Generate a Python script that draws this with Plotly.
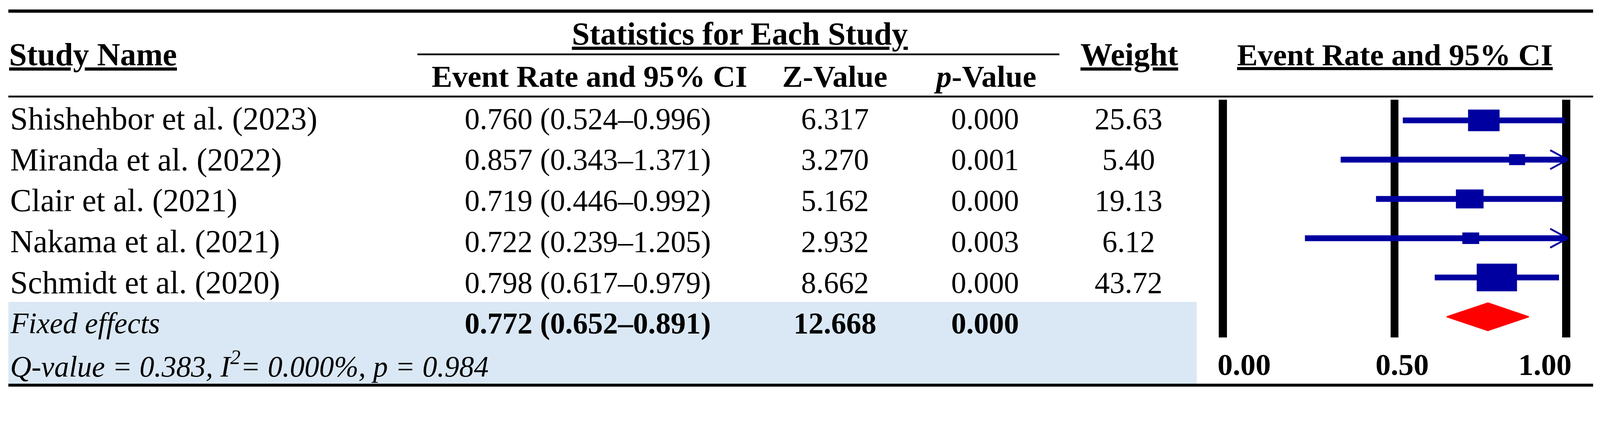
import math
import plotly.graph_objects as go

# ---------------- data ----------------
studies = ["Shishehbor et al. (2023)", "Miranda et al. (2022)", "Clair et al. (2021)",
           "Nakama et al. (2021)", "Schmidt et al. (2020)"]
event_rate = [0.760, 0.857, 0.719, 0.722, 0.798]
ci_lower = [0.524, 0.343, 0.446, 0.239, 0.617]
ci_upper = [0.996, 1.371, 0.992, 1.205, 0.979]
z_values = [6.317, 3.270, 5.162, 2.932, 8.662]
p_values = [0.000, 0.001, 0.000, 0.003, 0.000]
weights = [25.63, 5.40, 19.13, 6.12, 43.72]

pooled_label = "Fixed effects"
pooled_rate = 0.772
pooled_lower = 0.652
pooled_upper = 0.891
pooled_z = 12.668
pooled_p = 0.000

q_value = 0.383
i_squared = 0.000
p_heterogeneity = 0.984

tick_vals = [0.0, 0.5, 1.0]
tick_text = ["0.00", "0.50", "1.00"]

header_study = "Study Name"
header_stats = "Statistics for Each Study"
header_cols = ["Event Rate and 95% CI", "Z-Value", "<i>p</i>-Value"]
header_weight = "Weight"
header_plot = "Event Rate and 95% CI"

# ---------------- style / layout ----------------
W, H = 4404, 1092
FONT = "Liberation Serif, Times New Roman, serif"
FS_NAME = 88
FS_NUM = 83
FS_HEAD = 88
FS_SUB = 85
FS_ITAL = 81
BLUE = "#0000A0"
RED = "#FF0000"
BAND = "#DAE8F5"


def px(x):
    return x / W


def py(y):
    return 1 - y / H


# forest-plot axis geometry (pixels)
X0_PX, X1_PX = 3366, 4311
UNIT = X1_PX - X0_PX
XR = [-0.1, 1.08]
ROW0_PX, ROW_STEP = 331, 108
Y_TOP_PX, Y_BOT_PX = 274, 928
yr_top = (Y_TOP_PX - ROW0_PX) / ROW_STEP
yr_bot = (Y_BOT_PX - ROW0_PX) / ROW_STEP
CLIP = 1.0

# table geometry (pixels)
TROW0, TSTEP = 326.5, 112.5
COL_NAME = 26
COL_CI, COL_Z, COL_P, COL_W = 1618, 2298, 2711, 3106

fig = go.Figure()

# CI lines and arrows
for i, (lo, hi) in enumerate(zip(ci_lower, ci_upper)):
    fig.add_trace(go.Scatter(x=[lo, min(hi, CLIP)], y=[i, i], mode="lines",
                             line=dict(color=BLUE, width=16), hoverinfo="skip"))
    if hi > CLIP:
        ax = 44 / UNIT
        ay = 26 / ROW_STEP
        fig.add_trace(go.Scatter(x=[CLIP - ax, CLIP + 4 / UNIT, CLIP - ax],
                                 y=[i - ay, i, i + ay], mode="lines",
                                 line=dict(color=BLUE, width=5), hoverinfo="skip"))

# weight boxes
shapes = []
for i, (est, w) in enumerate(zip(event_rate, weights)):
    bw = (7.8 + 15.6 * math.sqrt(w)) / UNIT
    bh = (5.1 + 10.72 * math.sqrt(w)) / ROW_STEP
    shapes.append(dict(type="rect", xref="x", yref="y", x0=est - bw / 2, x1=est + bw / 2,
                       y0=i - bh / 2, y1=i + bh / 2, fillcolor=BLUE, line=dict(width=0),
                       layer="above"))

# pooled diamond
k = len(studies)
dh = 38 / ROW_STEP
fig.add_trace(go.Scatter(x=[pooled_lower, pooled_rate, pooled_upper, pooled_rate, pooled_lower],
                         y=[k, k - dh, k, k + dh, k], mode="lines", fill="toself",
                         fillcolor=RED, line=dict(color=RED, width=3), hoverinfo="skip"))

# table band and rules
shapes.append(dict(type="rect", xref="paper", yref="paper", x0=px(23), x1=px(3294),
                   y0=py(1055), y1=py(830), fillcolor=BAND, line=dict(width=0), layer="below"))
for y, lw, xa, xb in [(30.5, 9, 23, 4385), (265.5, 5, 23, 4385), (149.5, 5, 1149, 2916),
                      (1059, 8, 23, 4385)]:
    shapes.append(dict(type="line", xref="paper", yref="paper", x0=px(xa), x1=px(xb),
                       y0=py(y), y1=py(y), line=dict(color="black", width=lw)))

annotations = []


def txt(text, xpos, ypos, size, anchor="center", xref="paper", xshift=0):
    annotations.append(dict(text=text, x=xpos if xref != "paper" else px(xpos), y=py(ypos),
                            xref=xref, yref="paper", xanchor=anchor, yanchor="middle",
                            showarrow=False, xshift=xshift,
                            font=dict(family=FONT, size=size, color="black")))


# headers
txt(f"<b><u>{header_study}</u></b>", COL_NAME - 3, 151, FS_HEAD, "left")
txt(f"<b><u>{header_stats}</u></b>", 2036, 93.5, FS_HEAD)
txt(f"<b><u>{header_weight}</u></b>", COL_W + 2, 151, FS_HEAD)
txt(f"<b><u>{header_plot}</u></b>", 3839, 151, FS_SUB)
for t, c in zip(header_cols, [1622, COL_Z, COL_P]):
    txt(f"<b>{t}</b>", c, 210, FS_SUB)

# study rows
for i in range(k):
    y = TROW0 + i * TSTEP
    txt(studies[i], COL_NAME, y, FS_NAME, "left")
    txt(f"{event_rate[i]:.3f} ({ci_lower[i]:.3f}–{ci_upper[i]:.3f})", COL_CI, y, FS_NUM)
    txt(f"{z_values[i]:.3f}", COL_Z, y, FS_NUM)
    txt(f"{p_values[i]:.3f}", COL_P, y, FS_NUM)
    txt(f"{weights[i]:.2f}", COL_W, y, FS_NUM)

# pooled row
y = TROW0 + k * TSTEP
txt(f"<i>{pooled_label}</i>", COL_NAME, y, FS_ITAL, "left")
txt(f"<b>{pooled_rate:.3f} ({pooled_lower:.3f}–{pooled_upper:.3f})</b>", COL_CI, y, FS_NUM)
txt(f"<b>{pooled_z:.3f}</b>", COL_Z, y, FS_NUM)
txt(f"<b>{pooled_p:.3f}</b>", COL_P, y, FS_NUM)

# heterogeneity row
y = TROW0 + (k + 1) * TSTEP
txt(f"<i>Q-value = {q_value:.3f}, I<sup>2</sup>= {i_squared:.3f}%, p = {p_heterogeneity:.3f}</i>",
    COL_NAME, y, FS_ITAL, "left")

# forest tick labels
for v, t, a, s in zip(tick_vals, tick_text, ["left", "center", "right"], [-17, 21, 17]):
    txt(f"<b>{t}</b>", v, 1002, 84, a, xref="x", xshift=s)

fig.update_layout(
    width=W, height=H, margin=dict(l=0, r=0, t=0, b=0),
    paper_bgcolor="white", plot_bgcolor="rgba(0,0,0,0)",
    showlegend=False, hovermode=False,
    shapes=shapes, annotations=annotations,
    xaxis=dict(domain=[px(X0_PX + XR[0] * UNIT), px(X0_PX + XR[1] * UNIT)], range=XR,
               tickvals=tick_vals, showticklabels=False, ticks="", showgrid=True,
               gridcolor="black", gridwidth=22, zeroline=False, showline=False, fixedrange=True),
    yaxis=dict(domain=[py(Y_BOT_PX), py(Y_TOP_PX)], range=[yr_bot, yr_top],
               showticklabels=False, ticks="", showgrid=False, zeroline=False,
               showline=False, fixedrange=True),
)

post = (
    "var gd=document.getElementById('{plot_id}');"
    "document.documentElement.style.margin='0';"
    "document.body.style.margin='0';document.body.style.overflow='hidden';"
    "var s=Math.min(window.innerWidth/%d, window.innerHeight/%d);"
    "if(s>0 && Math.abs(s-1)>0.001){gd.style.transformOrigin='0 0';"
    "gd.style.transform='scale('+s+')';}" % (W, H)
)
fig.write_html("out.html", config={"displayModeBar": False}, post_script=post)
